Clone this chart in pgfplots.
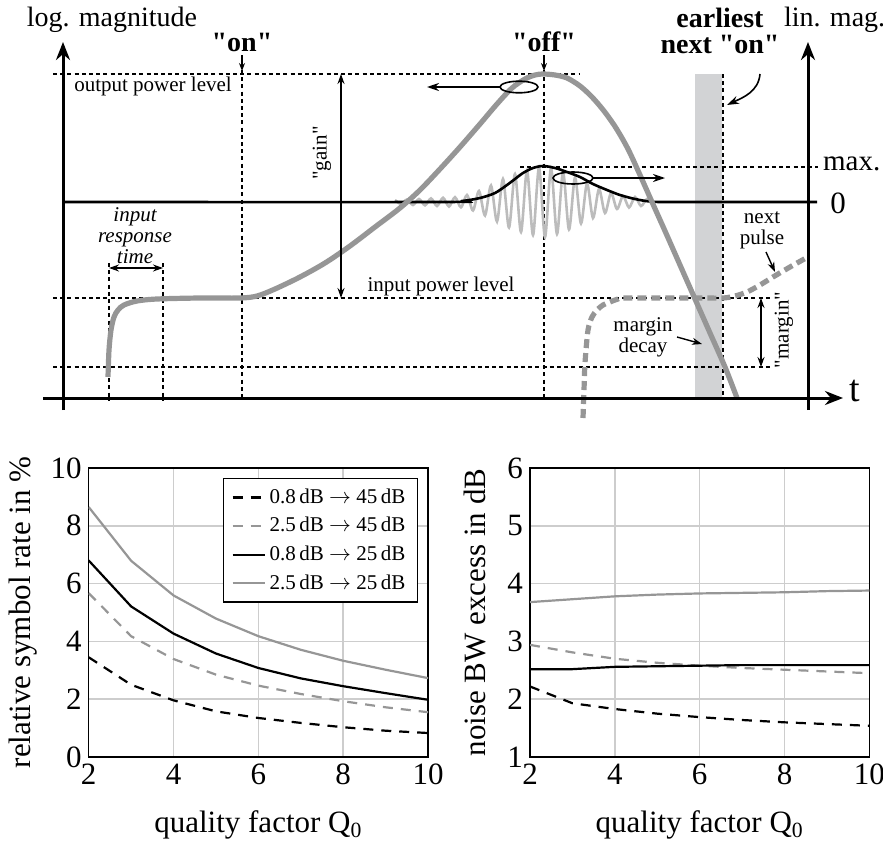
\documentclass[border=0pt]{standalone}
\usepackage{fontspec}
\setmainfont{Liberation Serif}
\newfontfamily\plainserif{Liberation Serif}
\usepackage{pgfplots}
\pgfplotsset{compat=1.18}
\usetikzlibrary{arrows.meta}

\definecolor{cGray}{RGB}{150,150,150}
\definecolor{cLight}{RGB}{188,188,188}
\definecolor{cBand}{RGB}{210,211,213}
\definecolor{cGrid}{RGB}{205,205,205}

\newcommand{\fsmall}{\fontsize{10.5}{10.5}\selectfont}
\newcommand{\fmid}{\fontsize{14}{13}\selectfont}
\newcommand{\fbig}{\fontsize{15.5}{18}\selectfont}
% straight quotes, no tex-text mapping
\newcommand{\qt}[1]{{\plainserif"#1"}}

\tikzset{
  thindash/.style={black, line width=0.6pt, dash pattern=on 2pt off 1.6pt},
  thinarr/.style={line width=0.7pt, -{Stealth[length=5pt,width=3.5pt]}},
  bigarr/.style={line width=1.5pt, -{Stealth[length=9pt,width=7pt]}},
}

\pgfplotsset{bot/.style={scale only axis, width=169.7pt, height=144.5pt,
  xmin=2, xmax=10, xtick={2,4,6,8,10},
  grid=major, grid style={cGrid, line width=0.8pt},
  axis line style={line width=0.6pt}, major tick length=0pt,
  tick label style={font=\fbig}, label style={font=\fbig},
  /pgf/number format/assume math mode=true,
  xlabel={quality factor Q\textsubscript{0}},
  xlabel style={at={(axis description cs:0.5,-0.235)}, anchor=center},
  every axis plot/.append style={line width=1.1pt}}}

\begin{document}
\begin{tikzpicture}

% top sketch, drawn in pixel units of the original
\begin{axis}[name=canvas, at={(0,0)}, anchor=south west, scale only axis,
  width=441.5pt, height=421pt, xmin=0, xmax=883, ymin=0, ymax=842,
  y dir=reverse, hide axis, clip=false]

  \addplot[fill=cBand, draw=none] coordinates {(695,74) (722,74) (722,398) (695,398) (695,74)};

  \draw[thindash] (53,74) -- (580,74);
  \draw[thindash] (53,298) -- (770,298);
  \draw[thindash] (53,367) -- (770,367);
  \draw[thindash] (520,167) -- (818,167);
  \draw[thindash] (242,70) -- (242,400);
  \draw[thindash] (544,70) -- (544,400);
  \draw[thindash] (109,263) -- (109,400);
  \draw[thindash] (163,263) -- (163,400);
  \draw[thindash] (723,74) -- (723,400);

  % oscillation
  \addplot[cLight, line width=1.3pt, smooth] coordinates {
    (395,200) (401,204) (407,199.5) (413,205) (419,199) (425,205.3) (431,198.4)
    (437,206) (443,197.8) (449,206.5) (455,197.2) (461,207.3) (467,195) (473,210.5)
    (479,191) (485,215.5) (491,185.5) (497,221.5) (503,179) (509,227.5) (515,174)
    (521,232) (527,170.5) (533,235) (539,167.5) (545,237) (551,168) (557,234)
    (563,172) (569,229.5) (575,177.5) (581,223.5) (587,183.5) (593,218) (599,189)
    (605,213) (611,193) (617,209) (623,196) (629,207.5) (635,197) (641,206)
    (647,199) (653,203.5)};

  % envelope on the zero line
  \addplot[black, line width=1.3pt, smooth] coordinates {
    (63,202) (440,202) (462,201) (480,198) (495,193) (507,185) (515,179) (523,173)
    (533,168) (543,166) (555,168) (567,172) (580,177) (593,184) (607,190) (620,195)
    (635,199) (650,201.5) (670,202) (817,202)};

  % log magnitude of the pulse
  \addplot[cGray, line width=2.6pt, smooth] coordinates {
    (108,377) (109,350) (111,330) (114,317) (118,310) (124,305) (137,301) (157,299)
    (200,298) (240,298) (257,296) (275,289) (300,277) (325,263) (350,246) (375,227)
    (400,208) (420,190) (440,169) (460,147) (480,124) (497,104) (512,88) (525,79)
    (535,75) (543,74) (555,75) (567,78) (580,86) (592,97) (604,111) (616,128)
    (628,149) (640,175) (652,202) (665,231) (680,265) (695,299) (710,333) (725,367) (737,398)};

  % next pulse
  \addplot[cGray, line width=2.6pt, dash pattern=on 4.5pt off 2.5pt, smooth] coordinates {
    (583,418) (584,390) (585,363) (588,330) (592,317) (597,310) (603,305) (610,302)
    (618,299) (627,298) (700,298) (723,298) (735,296) (747,292) (760,285) (773,277)
    (790,267) (806,258)};

  % axes of the sketch
  \draw[bigarr] (63,410) -- (63,42);
  \draw[bigarr] (808,410) -- (808,42);
  \draw[bigarr] (43,398) -- (843,398);

  \draw[line width=0.6pt, -{Stealth[length=4pt,width=3pt]}] (242,55) -- (242,71);
  \draw[line width=0.6pt, -{Stealth[length=4pt,width=3pt]}] (544,55) -- (544,71);

  \draw[line width=0.8pt] (519,87) ellipse [x radius=9.5pt, y radius=2.9pt];
  \draw[line width=0.8pt] (573,178) ellipse [x radius=10pt, y radius=3pt];
  \draw[line width=0.7pt, -{Stealth[length=6pt,width=4pt]}] (500,87) -- (427,87);
  \draw[line width=0.7pt, -{Stealth[length=6pt,width=4pt]}] (593,178) -- (665,178);

  \draw[line width=0.7pt, {Stealth[length=5pt,width=3.5pt]}-{Stealth[length=5pt,width=3.5pt]}] (341,74) -- (341,298);
  \draw[line width=0.7pt, {Stealth[length=5pt,width=3.5pt]}-{Stealth[length=5pt,width=3.5pt]}] (761,298) -- (761,367);
  \draw[line width=0.7pt, {Stealth[length=5pt,width=3.5pt]}-{Stealth[length=5pt,width=3.5pt]}] (109,268) -- (163,268);

  \draw[thinarr] (677,337) -- (702,344);
  \draw[thinarr] (766,252) -- (775,272);
  \draw[line width=0.8pt, -{Stealth[length=6pt,width=4pt]}] (760,74) to[out=-95,in=25] (727,105);

  \node[font=\fmid] at (112,20) {log. magnitude};
  \node[font=\fmid, anchor=west] at (777,20) {lin. mag.};
  \node[font={\fmid\bfseries}] at (242,42) {\qt{on}};
  \node[font={\fmid\bfseries}] at (544,42) {\qt{off}};
  \node[font={\fmid\bfseries}, align=center] at (720,31) {earliest\\next \qt{on}};
  \node[font=\fsmall] at (153,86) {output power level};
  \node[font=\fsmall] at (441,286) {input power level};
  \node[font=\fsmall, rotate=90] at (322,153) {\qt{gain}};
  \node[font=\fsmall, rotate=90] at (784,330) {\qt{margin}};
  \node[font={\fsmall\itshape}, align=center] at (135,236) {input\\response\\time};
  \node[font=\fsmall, align=center] at (643,337) {margin\\decay};
  \node[font=\fsmall, align=center] at (762,230) {next\\pulse};
  \node[font=\fontsize{14.5}{16}\selectfont, anchor=west] at (816,164) {max.};
  \node[font=\fbig] at (838,203) {0};
  \node[font=\fontsize{19}{20}\selectfont] at (855,391) {t};
\end{axis}

% relative symbol rate
\begin{axis}[bot, at={(44.35pt,42.5pt)}, anchor=south west,
  ymin=0, ymax=10, ytick={0,2,4,6,8,10},
  ylabel={relative symbol rate in \%},
  ylabel style={at={(axis description cs:-0.194,0.5)}, anchor=center},
  legend style={at={(0.97,0.965)}, anchor=north east, font=\fsmall,
    draw=black, line width=0.6pt, row sep=1.5pt, inner xsep=4pt, inner ysep=3pt},
  legend cell align=left,
  legend image code/.code={\draw[#1] (0pt,0pt) -- (16pt,0pt);}]
  \addplot[black, dash pattern=on 5pt off 4pt] coordinates {
    (2,3.45) (3,2.50) (4,1.96) (5,1.58) (6,1.35) (7,1.18) (8,1.03) (9,0.91) (10,0.83)};
  \addlegendentry{0.8\,dB $\rightarrow$ 45\,dB}
  \addplot[cGray, dash pattern=on 5pt off 4pt] coordinates {
    (2,5.67) (3,4.18) (4,3.39) (5,2.85) (6,2.47) (7,2.18) (8,1.93) (9,1.72) (10,1.55)};
  \addlegendentry{2.5\,dB $\rightarrow$ 45\,dB}
  \addplot[black] coordinates {
    (2,6.80) (3,5.21) (4,4.27) (5,3.58) (6,3.08) (7,2.72) (8,2.45) (9,2.21) (10,1.98)};
  \addlegendentry{0.8\,dB $\rightarrow$ 25\,dB}
  \addplot[cGray] coordinates {
    (2,8.65) (3,6.79) (4,5.59) (5,4.79) (6,4.18) (7,3.71) (8,3.33) (9,3.02) (10,2.73)};
  \addlegendentry{2.5\,dB $\rightarrow$ 25\,dB}
\end{axis}

% noise bandwidth excess
\begin{axis}[bot, at={(265pt,42.5pt)}, anchor=south west,
  ymin=1, ymax=6, ytick={1,2,3,4,5,6},
  ylabel={noise BW excess in dB},
  ylabel style={at={(axis description cs:-0.162,0.5)}, anchor=center}]
  \addplot[black, dash pattern=on 5pt off 4pt] coordinates {
    (2,2.22) (3,1.93) (4,1.83) (5,1.75) (6,1.69) (7,1.64) (8,1.60) (9,1.57) (10,1.54)};
  \addplot[cGray, dash pattern=on 5pt off 4pt] coordinates {
    (2,2.94) (3,2.81) (4,2.70) (5,2.63) (6,2.58) (7,2.54) (8,2.51) (9,2.48) (10,2.45)};
  \addplot[black] coordinates {
    (2,2.52) (3,2.52) (4,2.56) (5,2.57) (6,2.58) (7,2.59) (8,2.59) (9,2.59) (10,2.59)};
  \addplot[cGray] coordinates {
    (2,3.68) (3,3.73) (4,3.78) (5,3.81) (6,3.83) (7,3.84) (8,3.85) (9,3.87) (10,3.88)};
\end{axis}

\pgfresetboundingbox
\path (0,0) rectangle (441.5pt,421pt);
\end{tikzpicture}
\end{document}
